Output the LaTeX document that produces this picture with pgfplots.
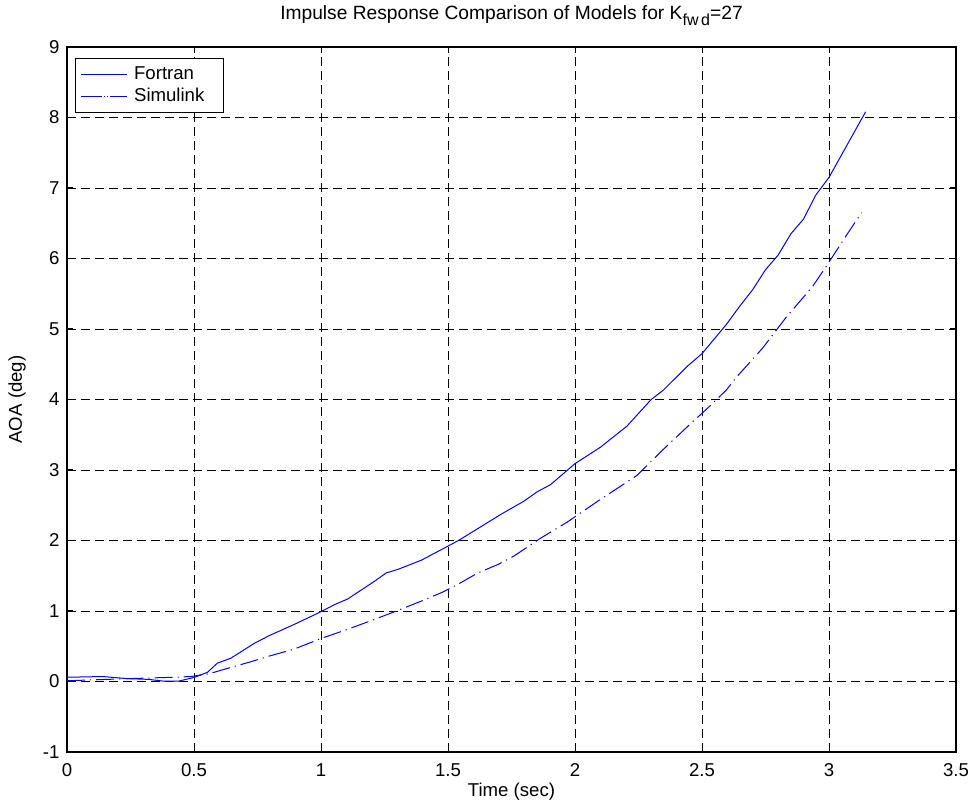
\documentclass[border=0pt]{standalone}
\usepackage{fontspec}
\setmainfont{Liberation Sans}
\usepackage{pgfplots}
\pgfplotsset{compat=1.18}
\begin{document}
\fontsize{9.3}{11}\selectfont
\begin{tikzpicture}
\begin{axis}[
  scale only axis, width=444.5pt, height=352.5pt,
  xmin=0, xmax=3.5, ymin=-1, ymax=9,
  xtick={0,0.5,1,1.5,2,2.5,3,3.5},
  ytick={-1,0,1,2,3,4,5,6,7,8,9},
  /pgf/number format/assume math mode=true,
  font=\fontsize{9.3}{11}\selectfont,
  tick label style={font=\fontsize{9.3}{11}\selectfont},
  tick align=inside, major tick length=3pt,
  xtick pos=both, ytick pos=both,
  axis line style={black, line width=0.6pt},
  every tick/.style={black, line width=0.5pt},
  grid=major,
  major grid style={black, line width=0.4pt, dash pattern=on 4.5pt off 2.5pt},
  xticklabel style={yshift=-2.4pt},
  yticklabel style={xshift=-0.5pt},
  xlabel={Time (sec)},
  xlabel style={at={(axis description cs:0.5,-0.0638)}, anchor=base, inner sep=0pt},
  ylabel={AOA (deg)},
  ylabel style={at={(axis description cs:-0.0562,0.5)}, anchor=center, inner sep=0pt},
  legend cell align=left,
  legend style={at={(axis description cs:0,1)}, anchor=north west, xshift=4pt, yshift=-5.5pt,
    draw=black, line width=0.5pt, inner xsep=2.5pt, inner ysep=2pt,
    font=\fontsize{9.3}{11}\selectfont, row sep=-1pt,
    nodes={inner xsep=3.3pt, inner ysep=2pt}},
  legend image code/.code={\path (0pt,0pt) -- (23pt,0pt); \draw[#1] (1.5pt,0pt) -- (18.5pt,0pt);},
]
\addplot[blue, line width=0.5pt] coordinates {
(0,0.06) (0.14,0.07) (0.24,0.04) (0.32,0.03) (0.38,0.005) (0.44,0.005)
(0.5,0.057) (0.553,0.13) (0.592,0.26) (0.645,0.33) (0.737,0.54) (0.796,0.65)
(0.895,0.81) (1.0,0.99) (1.053,1.09) (1.105,1.17) (1.21,1.42) (1.257,1.54)
(1.303,1.59) (1.395,1.72) (1.5,1.92) (1.546,2.01) (1.708,2.37) (1.80,2.56)
(1.851,2.69) (1.903,2.79) (2.0,3.09) (2.099,3.32) (2.204,3.62) (2.30,4.0)
(2.347,4.13) (2.445,4.48) (2.5,4.65) (2.595,5.06) (2.648,5.32) (2.70,5.56)
(2.75,5.84) (2.80,6.05) (2.85,6.35) (2.90,6.56) (2.948,6.90) (3.0,7.15)
(3.144,8.08)
};
\addlegendentry{Fortran}
\addplot[blue, line width=0.5pt, dash pattern=on 9pt off 2.5pt on 0.6pt off 2.5pt] coordinates {
(0,0.01) (0.24,0.04) (0.395,0.057) (0.487,0.07) (0.56,0.11) (0.645,0.2)
(0.724,0.28) (0.796,0.36) (0.895,0.46) (1.0,0.61) (1.105,0.74) (1.21,0.88)
(1.29,0.99) (1.395,1.14) (1.474,1.26) (1.54,1.38) (1.618,1.54) (1.697,1.66)
(1.76,1.78) (1.868,2.04) (1.969,2.26) (2.099,2.58) (2.243,2.92) (2.347,3.29)
(2.465,3.69) (2.517,3.86) (2.595,4.13) (2.634,4.31) (2.739,4.73) (2.83,5.16)
(2.935,5.60) (2.993,5.91) (3.078,6.38) (3.128,6.65)
};
\addlegendentry{Simulink\hspace*{4pt}}
\end{axis}
\node[anchor=base, inner sep=0pt, font=\fontsize{9.6}{11}\selectfont] at ([yshift=13.5pt]current axis.north) {Impulse Response Comparison of Models for K\raisebox{-0.5ex}{\fontsize{8}{9}\selectfont fw\,d}=27};
\pgfresetboundingbox
\path ([xshift=-33.5pt,yshift=-28pt]current axis.south west) rectangle ([xshift=9pt,yshift=23.5pt]current axis.north east);
\end{tikzpicture}
\end{document}
